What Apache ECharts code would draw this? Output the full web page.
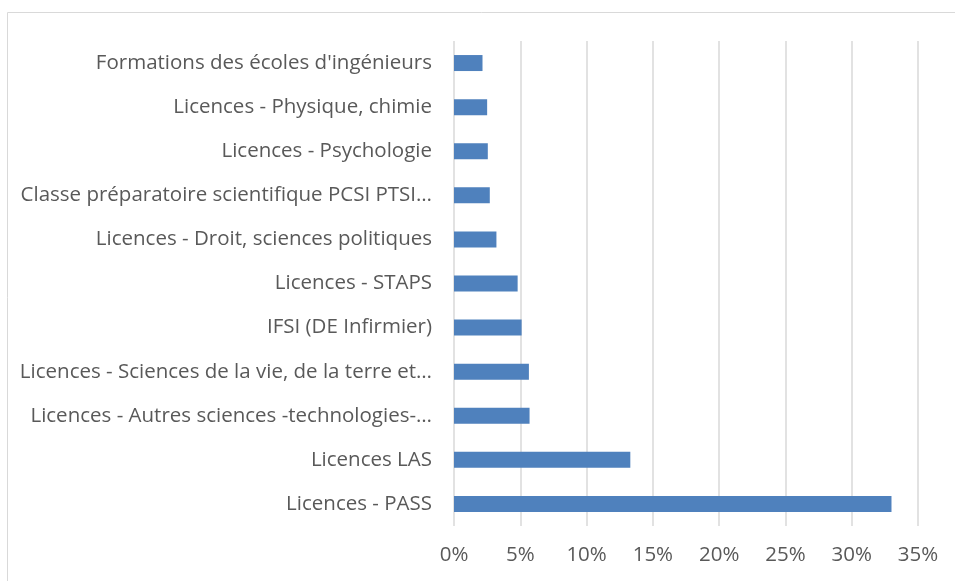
<!DOCTYPE html>
<html>
<head>
<meta charset="utf-8">
<script src="https://cdn.jsdelivr.net/npm/echarts@6/dist/echarts.min.js"></script>
<style>
  html, body { margin: 0; padding: 0; background: #fff; }
  #chart { width: 955px; height: 581px; }
</style>
</head>
<body>
<div id="chart"></div>
<script>
// categories from bottom to top
var categories = [
    'Licences - PASS',
    'Licences LAS',
    'Licences - Autres sciences -technologies-…',
    'Licences - Sciences de la vie, de la terre et…',
    'IFSI (DE Infirmier)',
    'Licences - STAPS',
    'Licences - Droit, sciences politiques',
    'Classe préparatoire scientifique PCSI PTSI…',
    'Licences - Psychologie',
    'Licences - Physique, chimie',
    "Formations des écoles d'ingénieurs"
];
var shares = [33.0, 13.3, 5.7, 5.65, 5.1, 4.8, 3.2, 2.7, 2.55, 2.5, 2.15];
var xTicks = [0, 5, 10, 15, 20, 25, 30, 35];

var myChart = echarts.init(document.getElementById('chart'));
var option = {
    animation: false,
    textStyle: { fontFamily: 'Open Sans' },
    graphic: [{
        type: 'rect',
        shape: { x: 7.5, y: 12.5, width: 960, height: 600 },
        style: { fill: 'none', stroke: '#d9d9d9', lineWidth: 1 }
    }],
    grid: { left: 454, right: 37, top: 41, height: 485, containLabel: false },
    xAxis: {
        type: 'value',
        min: xTicks[0],
        max: xTicks[xTicks.length - 1],
        interval: 5,
        axisLine: { show: false },
        axisTick: { show: false },
        splitLine: { lineStyle: { color: '#d9d9d9', width: 1.5 } },
        axisLabel: {
            color: '#595959',
            fontSize: 20.5,
            margin: 19,
            formatter: function (v) { return v + '%'; }
        }
    },
    yAxis: {
        type: 'category',
        data: categories,
        axisLine: { show: false },
        axisTick: { show: false },
        axisLabel: { color: '#595959', fontSize: 20.5, margin: 22 }
    },
    series: [{
        type: 'bar',
        data: shares,
        barWidth: 16,
        itemStyle: { color: '#4f81bd' }
    }]
};
myChart.setOption(option);
</script>
</body>
</html>
